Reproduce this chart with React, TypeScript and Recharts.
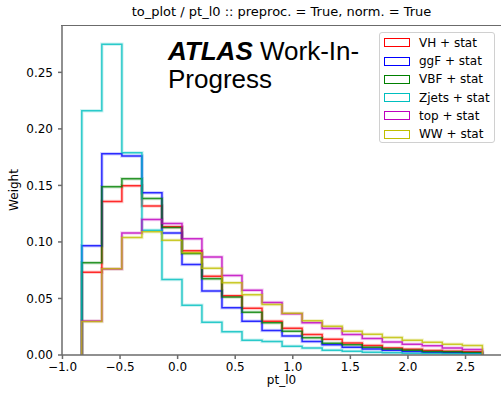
import React from 'react'
import { LineChart, Line, XAxis, YAxis } from 'recharts'

// bin edges of pt_l0 (20 bins)
const edges = [
  -0.832, -0.658, -0.484, -0.31, -0.136, 0.038, 0.211, 0.385, 0.559, 0.733, 0.907,
  1.081, 1.255, 1.429, 1.603, 1.777, 1.95, 2.124, 2.298, 2.472, 2.646,
]

const vh = [0.0733, 0.1358, 0.1497, 0.1317, 0.1134, 0.0921, 0.0697, 0.0523, 0.0414, 0.0299, 0.0236, 0.0182, 0.014, 0.0106, 0.0084, 0.0063, 0.0051, 0.004, 0.0034, 0.0028]
const ggf = [0.0966, 0.178, 0.176, 0.1435, 0.108, 0.0801, 0.0565, 0.0417, 0.0299, 0.0217, 0.0167, 0.012, 0.009, 0.0068, 0.0054, 0.0043, 0.0031, 0.0025, 0.0019, 0.0016]
const vbf = [0.0815, 0.1488, 0.1559, 0.1385, 0.1128, 0.0897, 0.0674, 0.0512, 0.0379, 0.0285, 0.0209, 0.0152, 0.0105, 0.009, 0.0069, 0.0054, 0.0043, 0.0031, 0.0028, 0.0022]
const zjets = [0.216, 0.2748, 0.179, 0.1104, 0.0668, 0.044, 0.029, 0.0205, 0.0131, 0.012, 0.0077, 0.0063, 0.0042, 0.0034, 0.0024, 0.0019, 0.0016, 0.0013, 0.0012, 0.001]
const top = [0.03, 0.076, 0.108, 0.1199, 0.1163, 0.1028, 0.0866, 0.0703, 0.0573, 0.0464, 0.0365, 0.0286, 0.0234, 0.0181, 0.0146, 0.0116, 0.0096, 0.0081, 0.0063, 0.0048]
const ww = [0.0296, 0.0762, 0.104, 0.109, 0.1016, 0.0905, 0.0768, 0.0638, 0.0532, 0.0447, 0.0369, 0.0302, 0.0255, 0.0211, 0.0184, 0.0155, 0.0131, 0.0113, 0.0096, 0.0084]

const series = [
  { key: 'VH', label: 'VH + stat', color: '#ff0000', values: vh },
  { key: 'ggF', label: 'ggF + stat', color: '#0000ff', values: ggf },
  { key: 'VBF', label: 'VBF + stat', color: '#008000', values: vbf },
  { key: 'Zjets', label: 'Zjets + stat', color: '#00bfbf', values: zjets },
  { key: 'top', label: 'top + stat', color: '#bf00bf', values: top },
  { key: 'WW', label: 'WW + stat', color: '#bfbf00', values: ww },
]

const xTicks = [-1, -0.5, 0, 0.5, 1, 1.5, 2, 2.5]
const yTicks = [0, 0.05, 0.1, 0.15, 0.2, 0.25]

// step-histogram rows: rise from zero at the first edge, fall to zero at the last
function buildRows() {
  const rows: any[] = []
  const n = edges.length - 1
  const zero: any = { x: edges[0] }
  series.forEach((s) => (zero[s.key] = 0))
  rows.push(zero)
  for (let i = 0; i < n; i++) {
    const r: any = { x: edges[i] }
    series.forEach((s) => (r[s.key] = s.values[i]))
    rows.push(r)
  }
  const last: any = { x: edges[n] }
  series.forEach((s) => (last[s.key] = s.values[n - 1]))
  rows.push(last)
  const end: any = { x: edges[n] }
  series.forEach((s) => (end[s.key] = 0))
  rows.push(end)
  return rows
}

const data = buildRows()
const font = "'DejaVu Sans', sans-serif"
const fmtX = (v: number) => v.toFixed(1).replace('-', '\u2212')

export default function App() {
  return (
    <div style={{ position: 'absolute', left: 0, top: 0, width: 501, height: 393, background: '#fff', overflow: 'hidden' }}>
      <LineChart width={501} height={393} data={data} margin={{ top: 26, right: 0, bottom: 8, left: 12 }}>
        <XAxis
          dataKey="x"
          type="number"
          domain={[-1.004, 2.808]}
          ticks={xTicks}
          tickFormatter={fmtX}
          allowDataOverflow
          height={30}
          tickSize={4}
          tickMargin={3}
          stroke="#6b6b6b"
          strokeWidth={1.5}
          tick={{ fill: '#000', fontSize: 12, fontFamily: font }}
        />
        <YAxis
          type="number"
          domain={[0, 0.291]}
          ticks={yTicks}
          tickFormatter={(v: number) => v.toFixed(2)}
          allowDataOverflow
          width={50}
          tickSize={4}
          tickMargin={5}
          stroke="#6b6b6b"
          strokeWidth={1.5}
          tick={{ fill: '#000', fontSize: 12, fontFamily: font }}
        />
        {series.map((s) => (
          <Line
            key={s.key + '-band'}
            dataKey={s.key}
            type="stepAfter"
            stroke={s.color}
            strokeOpacity={0.18}
            strokeWidth={3.5}
            dot={false}
            activeDot={false}
            legendType="none"
            isAnimationActive={false}
          />
        ))}
        {series.map((s) => (
          <Line
            key={s.key}
            dataKey={s.key}
            type="stepAfter"
            stroke={s.color}
            strokeOpacity={0.8}
            strokeWidth={1.5}
            dot={false}
            activeDot={false}
            isAnimationActive={false}
          />
        ))}
      </LineChart>

      {/* top spine */}
      <div style={{ position: 'absolute', left: 61, top: 25, width: 441, height: 0, borderTop: '1.5px solid #6b6b6b' }} />

      <div style={{ position: 'absolute', left: 62, width: 439, top: 4, textAlign: 'center', fontFamily: font, fontSize: 13, color: '#000' }}>
        to_plot / pt_l0 :: preproc. = True, norm. = True
      </div>

      <div style={{ position: 'absolute', left: 168, top: 37, fontFamily: "'Liberation Sans', Arial, sans-serif", fontSize: 26, lineHeight: '28px', color: '#000' }}>
        <span style={{ fontWeight: 'bold', fontStyle: 'italic' }}>ATLAS</span> Work-In-
        <br />
        Progress
      </div>

      <div style={{ position: 'absolute', left: 62, width: 439, top: 373, textAlign: 'center', fontFamily: font, fontSize: 12, color: '#000' }}>
        pt_l0
      </div>

      <div
        style={{
          position: 'absolute',
          left: 14,
          top: 190,
          transform: 'translate(-50%, -50%) rotate(-90deg)',
          fontFamily: font,
          fontSize: 12,
          color: '#000',
          whiteSpace: 'nowrap',
        }}
      >
        Weight
      </div>

      <div
        style={{
          position: 'absolute',
          left: 379,
          top: 32,
          width: 116,
          height: 111,
          boxSizing: 'border-box',
          border: '1px solid #d0d0d0',
          borderRadius: 3,
          background: 'rgba(255,255,255,0.8)',
        }}
      >
        {series.map((s, i) => (
          <div key={s.key} style={{ position: 'absolute', left: 0, top: 9.7 + i * 18.3 - 9, height: 18, width: 116 }}>
            <div
              style={{
                position: 'absolute',
                left: 4,
                top: 4.5,
                width: 26,
                height: 9,
                boxSizing: 'border-box',
                border: `1.5px solid ${s.color}`,
              }}
            />
            <div style={{ position: 'absolute', left: 39, top: 1, fontFamily: font, fontSize: 12, lineHeight: '16px', color: '#000', whiteSpace: 'nowrap' }}>
              {s.label}
            </div>
          </div>
        ))}
      </div>
    </div>
  )
}
